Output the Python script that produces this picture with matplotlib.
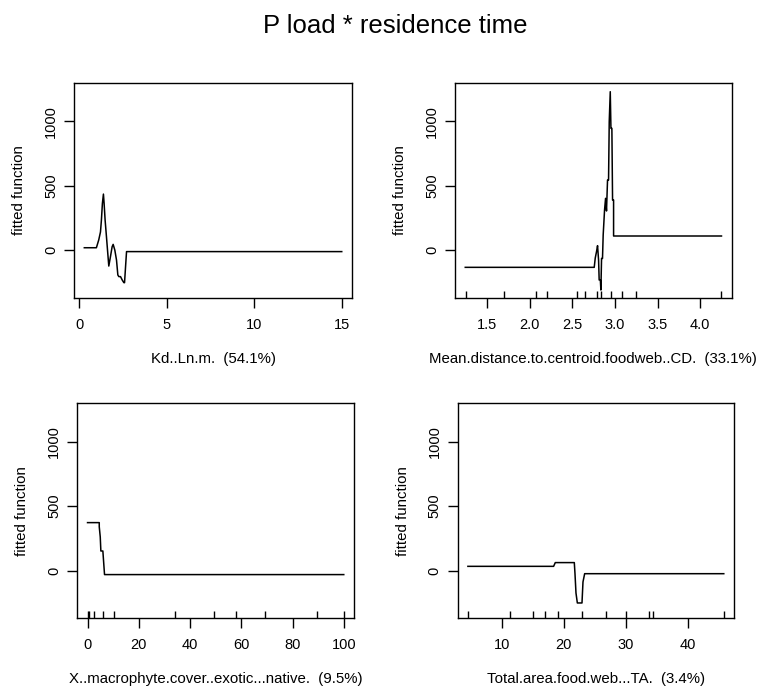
import numpy as np
import matplotlib
matplotlib.use('Agg')
import matplotlib.pyplot as plt

plt.rcParams['font.family'] = ['Liberation Sans', 'DejaVu Sans']

# values
kd_x = [0.287, 0.977, 1.11, 1.21, 1.264, 1.32, 1.379, 1.418, 1.475, 1.552, 1.628, 1.686,
        1.78, 1.877, 1.935, 2.03, 2.126, 2.203, 2.26, 2.356, 2.452, 2.548, 2.586, 2.644, 2.70, 15.0]
kd_y = [20, 20, 80, 142, 235, 363, 436, 363, 235, 106, -24, -122,
        -50, 28, 46, 2, -75, -191, -204, -204, -230, -251, -251, -127, -10, -10]

cd_x = [1.246, 2.758, 2.77, 2.785, 2.797, 2.809, 2.816, 2.83, 2.836, 2.844, 2.855, 2.863,
        2.879, 2.891, 2.902, 2.914, 2.926, 2.934, 2.946, 2.954, 2.965, 2.973, 2.985, 2.985, 4.25]
cd_y = [-132, -132, -60, -10, 36, -75, -230, -230, -308, -63, -63, 118,
        312, 403, 305, 545, 545, 997, 1230, 946, 946, 390, 390, 111, 111]
cd_rug = [1.254, 1.703, 2.074, 2.2, 2.551, 2.653, 2.79, 2.836, 2.954, 3.083, 3.243, 4.243]

mac_x = [0, 4.57, 4.57, 4.96, 5.2, 5.98, 6.63, 100]
mac_y = [372, 372, 340, 261, 152, 152, -31, -31]
mac_rug = [0, 0.4, 2.7, 6.0, 10.4, 34.2, 49.2, 58.0, 69.2, 89.5, 100]

ta_x = [4.51, 18.34, 18.61, 21.68, 21.79, 21.95, 22.17, 22.92, 23.08, 23.35, 45.8]
ta_y = [33, 33, 62, 62, -24, -174, -251, -251, -88, -24, -24]
ta_rug = [4.51, 11.34, 15.0, 16.88, 19.09, 22.92, 26.8, 29.97, 33.8, 34.4, 45.8]

panels = [
    (kd_x, kd_y, None, 'Kd..Ln.m.  (54.1%)', [0, 5, 10, 15], ['0', '5', '10', '15']),
    (cd_x, cd_y, cd_rug, 'Mean.distance.to.centroid.foodweb..CD.  (33.1%)',
     [1.5, 2.0, 2.5, 3.0, 3.5, 4.0], ['1.5', '2.0', '2.5', '3.0', '3.5', '4.0']),
    (mac_x, mac_y, mac_rug, 'X..macrophyte.cover..exotic...native.  (9.5%)',
     [0, 20, 40, 60, 80, 100], ['0', '20', '40', '60', '80', '100']),
    (ta_x, ta_y, ta_rug, 'Total.area.food.web...TA.  (3.4%)',
     [10, 20, 30, 40], ['10', '20', '30', '40']),
]

boxes = [
    [0.0974, 0.5687, 0.3658, 0.3111],
    [0.5987, 0.5687, 0.3641, 0.3111],
    [0.1017, 0.1052, 0.3641, 0.3111],
    [0.6022, 0.1052, 0.3636, 0.3111],
]

fig = plt.figure(figsize=(7.6, 6.91), dpi=100)
fig.text(0.52, 0.962, 'P load * residence time', ha='center', va='center', fontsize=18.5)

for (x, y, rug, lab, xt, xtl), box in zip(panels, boxes):
    ax = fig.add_axes(box)
    ax.plot(x, y, color='black', lw=1.1)
    if rug is not None:
        ax.vlines(rug, 0, 0.035, transform=ax.get_xaxis_transform(), color='black', lw=1.0)
    span = max(x) - min(x)
    ax.set_xlim(min(x) - 0.04 * span, max(x) + 0.04 * span)
    ax.set_ylim(-370, 1297)
    ax.set_xticks(xt)
    ax.set_xticklabels(xtl)
    ax.set_yticks([0, 500, 1000])
    ax.set_yticklabels(['0', '500', '1000'], rotation=90, va='center')
    ax.tick_params(axis='both', direction='out', length=7, width=1.0, labelsize=10.5, color='black')
    ax.tick_params(axis='x', pad=7.5)
    ax.tick_params(axis='y', pad=4.5)
    ax.set_xlabel(lab, fontsize=10.8, labelpad=14)
    ax.set_ylabel('fitted function', fontsize=10.8, labelpad=13)
    for s in ax.spines.values():
        s.set_linewidth(1.0)

fig.savefig('out.png', dpi=100)
